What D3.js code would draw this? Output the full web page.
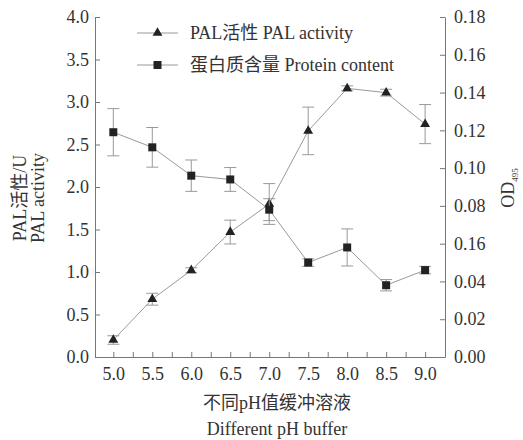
<!DOCTYPE html>
<html>
<head>
<meta charset="utf-8">
<script src="https://cdn.jsdelivr.net/npm/d3@7"></script>
<style>
  body { margin: 0; background: #fff; }
  text { font-family: "Liberation Serif", "Noto Sans CJK SC", serif; fill: #333; }
</style>
</head>
<body>
<div id="chart"></div>
<script>
// pH values on the x axis
const phValues = [5.0, 5.5, 6.0, 6.5, 7.0, 7.5, 8.0, 8.5, 9.0];
const xTickLabels = ['5.0', '5.5', '6.0', '6.5', '7.0', '7.5', '8.0', '8.5', '9.0'];

// PAL activity (U), left axis
const palActivity = [0.20, 0.68, 1.02, 1.47, 1.80, 2.66, 3.16, 3.11, 2.74];
const palError = [0.05, 0.07, 0.03, 0.14, 0.24, 0.28, 0.03, 0.04, 0.23];

// protein content (OD495), right axis
const proteinContent = [0.119, 0.111, 0.096, 0.094, 0.078, 0.050, 0.058, 0.038, 0.046];
const proteinError = [0.0125, 0.0105, 0.0083, 0.0063, 0.0058, 0.002, 0.0098, 0.003, 0.002];

const leftTicks = [0, 0.5, 1.0, 1.5, 2.0, 2.5, 3.0, 3.5, 4.0];
const leftTickLabels = ['0.0', '0.5', '1.0', '1.5', '2.0', '2.5', '3.0', '3.5', '4.0'];
const rightTicks = [0, 0.02, 0.04, 0.06, 0.08, 0.10, 0.12, 0.14, 0.16, 0.18];
const rightTickLabels = ['0.00', '0.02', '0.04', '0.16', '0.08', '0.10', '0.12', '0.14', '0.16', '0.18'];

const legendLabels = ['PAL活性 PAL activity', '蛋白质含量 Protein content'];

const width = 523;
const height = 440;
const margin = {
  top: 17, right: 78, bottom: 83, left: 95,
};
const contentWidth = width - margin.left - margin.right;
const contentHeight = height - margin.top - margin.bottom;

const svg = d3.select('#chart')
  .append('svg')
  .attr('width', width)
  .attr('height', height);

const g = svg.append('g')
  .attr('transform', `translate(${margin.left},${margin.top})`);

const x = d3.scaleLinear().domain([4.765, 9.255]).range([0, contentWidth]);
const yLeft = d3.scaleLinear().domain([0, 4]).range([contentHeight, 0]);
const yRight = d3.scaleLinear().domain([0, 0.18]).range([contentHeight, 0]);

const axisColor = '#777';
const lineColor = '#999';
const fontSize = 18;

function styleAxis(sel) {
  sel.select('.domain').attr('stroke', axisColor);
  sel.selectAll('.tick line').attr('stroke', axisColor);
  sel.selectAll('.tick text')
    .attr('font-size', fontSize)
    .attr('font-family', 'Liberation Serif, serif')
    .attr('fill', '#333');
}

// bottom axis: ticks every 0.25, labels only on the half steps
const minorTicks = d3.range(5.0, 9.01, 0.25);
g.append('g')
  .attr('transform', `translate(0,${contentHeight})`)
  .call(d3.axisBottom(x).tickValues(minorTicks).tickSizeInner(-5).tickSizeOuter(0).tickFormat(''))
  .call(styleAxis);
g.append('g')
  .attr('transform', `translate(0,${contentHeight})`)
  .call(d3.axisBottom(x).tickValues(phValues).tickSize(0).tickPadding(10)
    .tickFormat((d, i) => xTickLabels[i]))
  .call((sel) => sel.select('.domain').remove())
  .call(styleAxis);

// left axis
g.append('g')
  .call(d3.axisLeft(yLeft).tickValues(leftTicks).tickSizeInner(-5).tickSizeOuter(0).tickPadding(6)
    .tickFormat((d, i) => leftTickLabels[i]))
  .call(styleAxis);

// right axis
g.append('g')
  .attr('transform', `translate(${contentWidth},0)`)
  .call(d3.axisRight(yRight).tickValues(rightTicks).tickSizeInner(-5).tickSizeOuter(0).tickPadding(9)
    .tickFormat((d, i) => rightTickLabels[i]))
  .call(styleAxis);

// axis titles
const leftTitle = svg.append('text')
  .attr('transform', 'translate(26,198) rotate(-90)')
  .attr('text-anchor', 'middle')
  .attr('font-size', fontSize);
leftTitle.append('tspan').attr('x', 0).attr('dy', 0).text('PAL活性/U');
leftTitle.append('tspan').attr('x', 0).attr('dy', 18).text('PAL activity');

const rightTitle = svg.append('text')
  .attr('transform', 'translate(514,188) rotate(-90)')
  .attr('text-anchor', 'middle')
  .attr('font-size', fontSize);
rightTitle.append('tspan').text('OD');
rightTitle.append('tspan').attr('font-size', 9).attr('dy', 4).text('495');

svg.append('text')
  .attr('x', 277)
  .attr('y', 409)
  .attr('text-anchor', 'middle')
  .attr('font-size', fontSize)
  .text('不同pH值缓冲溶液');
svg.append('text')
  .attr('x', 277)
  .attr('y', 435)
  .attr('text-anchor', 'middle')
  .attr('font-size', fontSize)
  .text('Different pH buffer');

// series
const series = [
  { values: palActivity, errors: palError, y: yLeft, symbol: d3.symbolTriangle, size: 42 },
  { values: proteinContent, errors: proteinError, y: yRight, symbol: d3.symbolSquare, size: 64 },
];

series.forEach((s) => {
  const pts = phValues.map((ph, i) => ({ ph, v: s.values[i], e: s.errors[i] }));

  g.append('path')
    .datum(pts)
    .attr('fill', 'none')
    .attr('stroke', lineColor)
    .attr('stroke-width', 1)
    .attr('d', d3.line().x((d) => x(d.ph)).y((d) => s.y(d.v)));

  const err = g.append('g').selectAll('g').data(pts).join('g')
    .attr('stroke', lineColor)
    .attr('stroke-width', 1);
  err.append('line')
    .attr('x1', (d) => x(d.ph)).attr('x2', (d) => x(d.ph))
    .attr('y1', (d) => s.y(d.v - d.e)).attr('y2', (d) => s.y(d.v + d.e));
  err.append('line')
    .attr('x1', (d) => x(d.ph) - 6).attr('x2', (d) => x(d.ph) + 6)
    .attr('y1', (d) => s.y(d.v + d.e)).attr('y2', (d) => s.y(d.v + d.e));
  err.append('line')
    .attr('x1', (d) => x(d.ph) - 6).attr('x2', (d) => x(d.ph) + 6)
    .attr('y1', (d) => s.y(d.v - d.e)).attr('y2', (d) => s.y(d.v - d.e));

  g.append('g').selectAll('path').data(pts).join('path')
    .attr('transform', (d) => `translate(${x(d.ph)},${s.y(d.v)})`)
    .attr('d', d3.symbol().type(s.symbol).size(s.size))
    .attr('fill', '#222');
});

// legend
const legend = svg.append('g').attr('transform', 'translate(137,33)');
series.forEach((s, i) => {
  const row = legend.append('g').attr('transform', `translate(0,${i * 32})`);
  row.append('line')
    .attr('x1', 0).attr('x2', 41)
    .attr('stroke', lineColor);
  row.append('path')
    .attr('transform', 'translate(20.5,0)')
    .attr('d', d3.symbol().type(s.symbol).size(s.size))
    .attr('fill', '#222');
  row.append('text')
    .attr('x', 53)
    .attr('y', 0)
    .attr('dy', '0.35em')
    .attr('font-size', fontSize)
    .text(legendLabels[i]);
});
</script>
</body>
</html>
